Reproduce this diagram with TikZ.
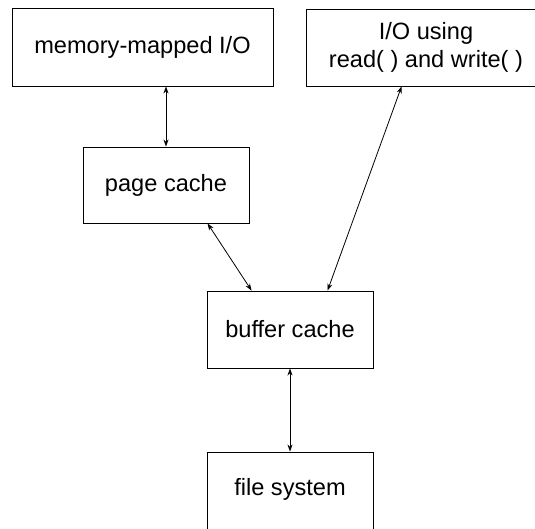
\documentclass[tikz,border=0pt]{standalone}
\usepackage{fontspec}
\setmainfont{Liberation Sans}
\usetikzlibrary{arrows.meta}
\begin{document}
\begin{tikzpicture}[x=1pt,y=1pt,
  box/.style={draw, line width=0.9pt, inner sep=0pt, align=center,
    font=\fontsize{23.6}{27.5}\selectfont},
  link/.style={line width=0.8pt, {Stealth[length=7pt,width=5pt]}-{Stealth[length=7pt,width=5pt]}}]
\useasboundingbox (0,0) rectangle (535,528);
\clip (0,0) rectangle (535,528);
\node[box, minimum width=261pt, minimum height=78pt] (mm) at (142.5,481) {memory-mapped I/O};
\node[box, minimum width=240pt, minimum height=77pt] (io) at (426,480.5) {I/O using\\read( ) and write( )};
\node[box, minimum width=166pt, minimum height=76pt] (pc) at (166,343) {page cache};
\node[box, minimum width=166pt, minimum height=77pt] (bc) at (290,198.5) {buffer cache};
\node[box, minimum width=166pt, minimum height=90pt, text height=17pt, text depth=20pt] (fs) at (290,31) {file system};
\draw[link] (mm.south -| pc.north) -- (pc.north);
\draw[link] ([xshift=125pt]pc.south west) -- ([xshift=45pt]bc.north west);
\draw[link] ([xshift=96pt]io.south west) -- ([xshift=121pt]bc.north west);
\draw[link] (bc.south) -- (fs.north);
\end{tikzpicture}
\end{document}
